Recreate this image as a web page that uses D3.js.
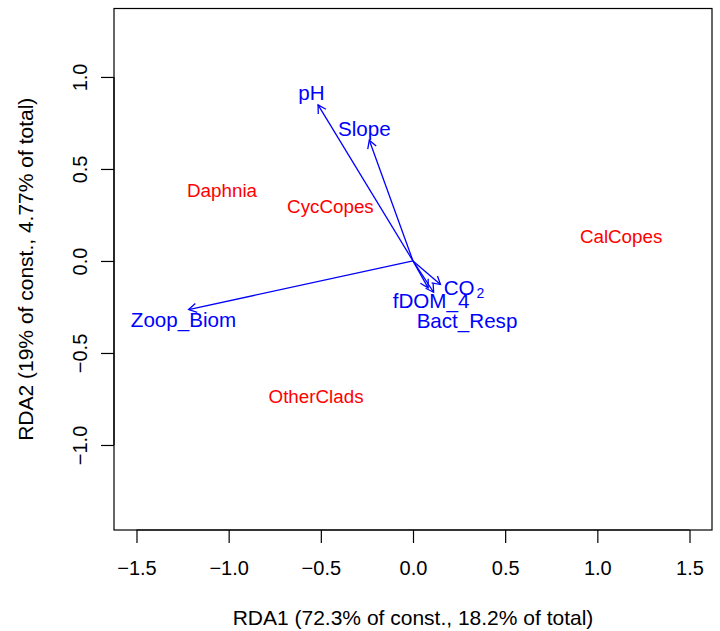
<!DOCTYPE html>
<html>
<head>
<meta charset="utf-8">
<script src="https://cdn.jsdelivr.net/npm/d3@7"></script>
<style>
  html, body { margin: 0; padding: 0; background: #fff; }
  text { font-family: "Liberation Sans", Arial, Helvetica, sans-serif; }
</style>
</head>
<body>
<svg id="chart" width="720" height="631"></svg>
<script>
// Species scores (red labels)
const speciesNames = ["Daphnia", "CycCopes", "CalCopes", "OtherClads"];
const speciesX = [-1.036, -0.448, 1.129, -0.526];
const speciesY = [0.383, 0.298, 0.132, -0.736];

// Biplot arrows for explanatory variables (blue)
const varNames = ["pH", "Slope", "Zoop_Biom", "CO2", "fDOM_4", "Bact_Resp"];
const varX = [-0.515, -0.237, -1.217, 0.149, 0.082, 0.112];
const varY = [0.848, 0.656, -0.264, -0.128, -0.146, -0.170];
// label anchor points for the arrows
const varLabelX = [-0.551, -0.264, -1.245, 0.277, 0.098, 0.293];
const varLabelY = [0.916, 0.720, -0.318, -0.144, -0.217, -0.323];

// Axis ticks and titles
const xTicks = [-1.5, -1.0, -0.5, 0.0, 0.5, 1.0, 1.5];
const yTicks = [-1.0, -0.5, 0.0, 0.5, 1.0];
const xTitle = "RDA1 (72.3% of const., 18.2% of total)";
const yTitle = "RDA2 (19% of const., 4.77% of total)";

const box = { left: 114, right: 712, top: 8.5, bottom: 530 };
const x = d3.scaleLinear().domain([-1.622, 1.622]).range([box.left, box.right]);
const y = d3.scaleLinear().domain([-1.462, 1.372]).range([box.bottom, box.top]);

const svg = d3.select("#chart");
const fmt = d3.format(".1f");

// plot frame
svg.append("rect")
  .attr("x", box.left).attr("y", box.top)
  .attr("width", box.right - box.left).attr("height", box.bottom - box.top)
  .attr("fill", "none").attr("stroke", "#000").attr("stroke-width", 1.2);

// x axis
const xAxis = d3.axisBottom(x).tickValues(xTicks).tickFormat(fmt).tickSize(13).tickPadding(18);
const gx = svg.append("g").attr("transform", `translate(0,${box.bottom})`).call(xAxis);
gx.select(".domain").attr("d", `M${x(xTicks[0])},0H${x(xTicks[xTicks.length - 1])}`).attr("stroke-width", 1.2);
gx.selectAll(".tick line").attr("stroke-width", 1.2);
gx.selectAll(".tick text").attr("font-size", 20).attr("fill", "#000")
  .attr("font-family", "Liberation Sans, Arial, sans-serif");

// y axis (labels rotated like base graphics)
const yAxis = d3.axisLeft(y).tickValues(yTicks).tickFormat(fmt).tickSize(13).tickPadding(0);
const gy = svg.append("g").attr("transform", `translate(${box.left},0)`).call(yAxis);
gy.select(".domain").attr("d", `M0,${y(yTicks[0])}V${y(yTicks[yTicks.length - 1])}`).attr("stroke-width", 1.2);
gy.selectAll(".tick line").attr("stroke-width", 1.2);
gy.selectAll(".tick text")
  .attr("x", null).attr("dy", null)
  .attr("text-anchor", "middle")
  .attr("transform", "translate(-27,0) rotate(-90)")
  .attr("font-size", 20).attr("fill", "#000")
  .attr("font-family", "Liberation Sans, Arial, sans-serif");

// axis titles
svg.append("text")
  .attr("x", (box.left + box.right) / 2).attr("y", 625)
  .attr("text-anchor", "middle").attr("font-size", 21).text(xTitle);
svg.append("text")
  .attr("transform", `translate(33,${(box.top + box.bottom) / 2}) rotate(-90)`)
  .attr("text-anchor", "middle").attr("font-size", 21).text(yTitle);

// species labels
svg.append("g").selectAll("text")
  .data(speciesNames)
  .join("text")
  .attr("x", (d, i) => x(speciesX[i]))
  .attr("y", (d, i) => y(speciesY[i]))
  .attr("dy", "0.36em")
  .attr("text-anchor", "middle")
  .attr("font-size", 18.8)
  .attr("fill", "#FF0000")
  .text(d => d);

// arrows
const blue = "#0000FF";
const headLen = 9, headAng = Math.PI / 6;
const gArr = svg.append("g").attr("stroke", blue).attr("stroke-width", 1.3).attr("fill", "none");
varNames.forEach((name, i) => {
  const x0 = x(0), y0 = y(0), x1 = x(varX[i]), y1 = y(varY[i]);
  gArr.append("line").attr("x1", x0).attr("y1", y0).attr("x2", x1).attr("y2", y1);
  const a = Math.atan2(y1 - y0, x1 - x0);
  const p = d3.path();
  p.moveTo(x1 - headLen * Math.cos(a - headAng), y1 - headLen * Math.sin(a - headAng));
  p.lineTo(x1, y1);
  p.lineTo(x1 - headLen * Math.cos(a + headAng), y1 - headLen * Math.sin(a + headAng));
  gArr.append("path").attr("d", p.toString());
});

// arrow labels
const gLab = svg.append("g").attr("fill", blue).attr("font-size", 20.6).attr("text-anchor", "middle");
varNames.forEach((name, i) => {
  const t = gLab.append("text")
    .attr("x", x(varLabelX[i]))
    .attr("y", y(varLabelY[i]))
    .attr("dy", "0.36em");
  if (name === "CO2") {
    t.append("tspan").text("CO");
    t.append("tspan").attr("font-size", 14).attr("dy", "0.25em").attr("dx", 2).text("2");
  } else {
    t.text(name);
  }
});
</script>
</body>
</html>
